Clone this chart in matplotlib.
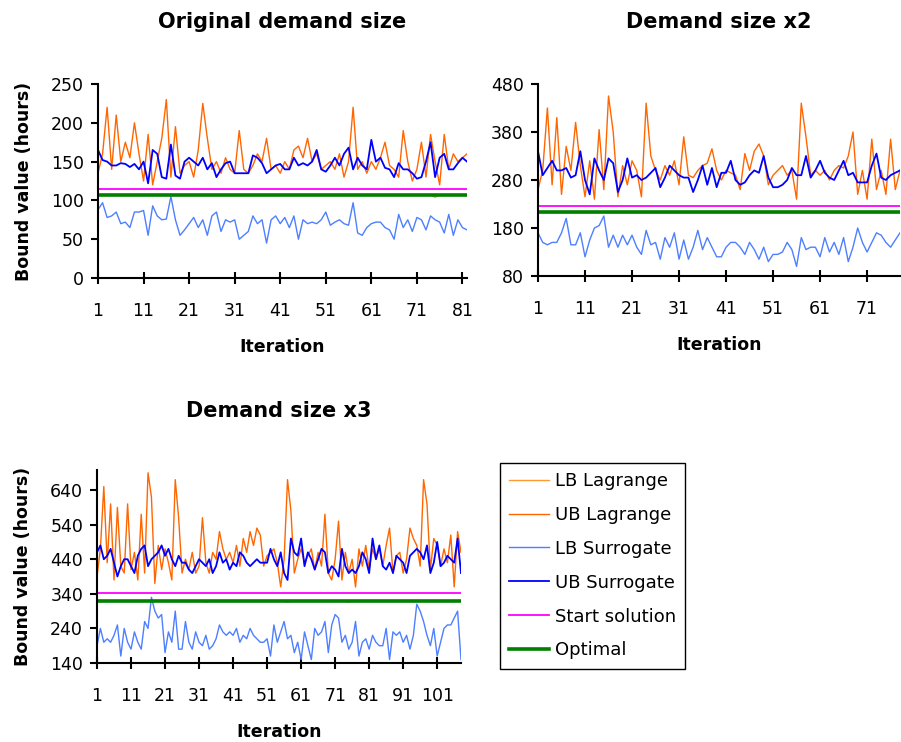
import numpy as np
import matplotlib
matplotlib.use("Agg")
import matplotlib.pyplot as plt

plt.rcParams.update({
    'font.family': 'DejaVu Sans',
    'font.size': 12.5,
    'axes.linewidth': 1.5,
})

# ---- data: original demand size ----
ub_lag1 = [135, 160, 220, 140, 210, 150, 175, 155, 200, 160,
           125, 185, 120, 150, 180, 230, 130, 195, 135, 145,
           150, 130, 165, 225, 180, 140, 150, 135, 155, 140,
           135, 190, 140, 135, 145, 160, 150, 180, 140, 145,
           135, 150, 140, 165, 170, 155, 180, 150, 160, 140,
           145, 150, 140, 160, 130, 150, 220, 140, 150, 135,
           150, 140, 155, 175, 145, 140, 130, 190, 150, 125,
           140, 175, 130, 185, 150, 120, 185, 140, 160, 150,
           155, 160]
ub_sur1 = [165, 152, 150, 145, 145, 148, 147, 143, 147, 140,
           150, 122, 165, 160, 130, 128, 172, 132, 128, 150,
           155, 150, 145, 155, 140, 148, 130, 140, 148, 150,
           135, 135, 135, 135, 158, 155, 148, 135, 140, 145,
           147, 140, 140, 155, 145, 148, 145, 150, 165, 140,
           137, 145, 155, 145, 160, 168, 140, 155, 145, 140,
           178, 150, 155, 142, 140, 130, 148, 140, 140, 135,
           128, 130, 150, 175, 130, 155, 160, 140, 140, 148,
           155, 150]
lb_sur1 = [88, 97, 78, 80, 85, 70, 72, 65, 85, 85,
           87, 55, 93, 80, 75, 76, 105, 75, 55, 62,
           70, 78, 65, 75, 55, 80, 85, 60, 75, 72,
           75, 50, 55, 60, 80, 70, 75, 45, 75, 80,
           70, 78, 65, 80, 50, 75, 70, 72, 70, 75,
           85, 68, 72, 75, 70, 68, 97, 58, 55, 65,
           70, 72, 72, 65, 62, 50, 82, 65, 75, 60,
           78, 75, 62, 80, 75, 72, 58, 82, 55, 75,
           65, 62]
start1, opt1 = 115, 107

# ---- data: demand size x2 ----
ub_lag2 = [260, 300, 430, 270, 410, 250, 350, 300, 400, 310,
           245, 320, 240, 385, 260, 455, 380, 245, 310, 270,
           320, 300, 245, 440, 330, 300, 280, 310, 290, 320,
           270, 370, 290, 285, 300, 310, 315, 345, 300, 280,
           300, 295, 290, 260, 335, 300, 340, 355, 330, 270,
           290, 300, 310, 290, 300, 240, 440, 370, 290, 300,
           290, 300, 280, 300, 310, 305, 330, 380, 250, 300,
           240, 365, 260, 300, 250, 365, 260, 300]
ub_sur2 = [340, 290, 305, 320, 300, 300, 305, 285, 290, 340,
           280, 250, 325, 300, 280, 325, 315, 255, 280, 325,
           285, 290, 280, 285, 295, 305, 265, 285, 310, 300,
           290, 285, 285, 255, 280, 310, 270, 305, 265, 295,
           295, 320, 280, 270, 275, 290, 300, 295, 330, 285,
           265, 265, 270, 280, 305, 290, 290, 330, 285, 300,
           320, 295, 285, 280, 300, 320, 290, 295, 275, 275,
           275, 310, 335, 285, 280, 290, 295, 300]
lb_sur2 = [170, 150, 145, 150, 150, 170, 200, 145, 145, 170,
           120, 155, 180, 185, 205, 140, 165, 140, 165, 145,
           165, 140, 125, 175, 145, 150, 115, 160, 140, 170,
           115, 155, 115, 140, 175, 135, 160, 140, 120, 120,
           140, 150, 150, 140, 125, 150, 135, 115, 140, 110,
           125, 125, 130, 150, 135, 100, 160, 135, 140, 140,
           120, 160, 130, 150, 125, 160, 110, 140, 180, 150,
           130, 150, 170, 165, 150, 140, 155, 170]
start2, opt2 = 226, 213

# ---- data: demand size x3 ----
ub_lag3 = [390, 470, 650, 430, 600, 380, 590, 420, 400, 600,
           410, 460, 380, 570, 400, 690, 620, 370, 480, 410,
           470, 430, 380, 670, 560, 400, 440, 410, 460, 400,
           420, 560, 430, 400, 460, 440, 520, 470, 440, 460,
           430, 480, 420, 500, 460, 520, 480, 530, 510, 420,
           450, 460, 470, 430, 360, 440, 670, 580, 400, 440,
           470, 430, 450, 470, 410, 460, 420, 570, 400, 380,
           440, 550, 380, 460, 400, 440, 360, 470, 420, 480,
           410, 470, 440, 470, 420, 480, 530, 400, 450, 460,
           400, 440, 530, 500, 480, 420, 670, 600, 410, 500,
           480, 420, 470, 430, 510, 360, 520, 460]
ub_sur3 = [460, 480, 440, 450, 470, 430, 390, 420, 440, 440,
           420, 400, 450, 470, 480, 420, 440, 450, 460, 480,
           450, 470, 440, 420, 450, 430, 430, 410, 400, 420,
           440, 430, 420, 440, 400, 420, 460, 430, 440, 410,
           430, 420, 460, 450, 430, 420, 430, 440, 430, 430,
           430, 470, 440, 420, 460, 400, 380, 500, 460, 450,
           500, 420, 460, 440, 410, 440, 470, 460, 400, 420,
           410, 390, 470, 420, 400, 410, 400, 420, 460, 440,
           400, 500, 440, 480, 420, 410, 430, 400, 450, 440,
           430, 400, 450, 460, 470, 460, 440, 480, 400, 430,
           490, 420, 430, 450, 440, 430, 500, 400]
lb_sur3 = [190, 240, 200, 210, 200, 220, 250, 160, 240, 200,
           180, 230, 200, 180, 260, 240, 330, 290, 270, 280,
           170, 230, 200, 290, 180, 180, 260, 200, 180, 230,
           200, 190, 220, 180, 190, 210, 250, 230, 220, 230,
           220, 240, 200, 220, 210, 240, 220, 210, 200, 200,
           210, 160, 250, 200, 230, 260, 210, 220, 170, 200,
           150, 230, 190, 150, 240, 220, 230, 260, 170, 250,
           280, 270, 200, 220, 180, 200, 260, 160, 200, 210,
           180, 220, 200, 190, 190, 240, 150, 230, 220, 230,
           200, 220, 180, 220, 310, 290, 260, 220, 190, 240,
           160, 200, 240, 250, 250, 270, 290, 150]
start3, opt3 = 341, 319

# LB Lagrange sits on the optimal value almost everywhere (hidden behind it)
lb_lag_dips1 = {75: 104}
lb_lag_dips3 = {33: 316, 57: 316, 75: 316}

labels = ['LB Lagrange', 'UB Lagrange', 'LB Surrogate', 'UB Surrogate',
          'Start solution', 'Optimal']
colors = ['#FF9933', '#FF6600', '#4D7FFF', '#0000FF', '#FF00FF', '#008000']
widths = [1.0, 1.0, 1.0, 1.3, 1.3, 2.6]

W, H = 901, 742
fig = plt.figure(figsize=(W / 100, H / 100), dpi=100)


def ax_at(l, t, r, b):
    return fig.add_axes([l / W, 1 - b / H, (r - l) / W, (b - t) / H])


def panel(ax, ub_lag, ub_sur, lb_sur, start, opt, dips, ylo, yhi, ystep):
    n = len(ub_lag)
    x = np.arange(1, n + 1)
    lb_lag = [opt] * n
    for k, v in dips.items():
        lb_lag[k - 1] = v
    series = [lb_lag, ub_lag, lb_sur, ub_sur, [start] * n, [opt] * n]
    handles = []
    for s, c, w, lab in zip(series, colors, widths, labels):
        h, = ax.plot(x, s, color=c, lw=w, label=lab)
        handles.append(h)
    ax.set_xlim(1, n)
    ax.set_ylim(ylo, yhi)
    ax.set_xticks(np.arange(1, n + 1, 10))
    ax.set_yticks(np.arange(ylo, yhi + 1, ystep))
    ax.spines['top'].set_visible(False)
    ax.spines['right'].set_visible(False)
    ax.tick_params(axis='x', direction='inout', length=9, width=1.5, pad=13)
    ax.tick_params(axis='y', direction='out', length=5, width=1.5, pad=5)
    ax.set_xlabel('Iteration', fontweight='bold', fontsize=12.5, labelpad=13)
    return handles


ax1 = ax_at(98, 84, 467, 278)
handles = panel(ax1, ub_lag1, ub_sur1, lb_sur1, start1, opt1, lb_lag_dips1, 0, 250, 50)
ax1.set_ylabel('Bound value (hours)', fontweight='bold', fontsize=12.5, labelpad=13)
ax1.set_title('Original demand size', fontweight='bold', fontsize=15, pad=40)

ax2 = ax_at(538, 84, 900, 276)
panel(ax2, ub_lag2, ub_sur2, lb_sur2, start2, opt2, {}, 80, 480, 100)
ax2.set_title('Demand size x2', fontweight='bold', fontsize=15, pad=40)

ax3 = ax_at(97, 470, 461, 663)
panel(ax3, ub_lag3, ub_sur3, lb_sur3, start3, opt3, lb_lag_dips3, 140, 698, 100)
ax3.set_ylabel('Bound value (hours)', fontweight='bold', fontsize=12.5, labelpad=13)
ax3.set_title('Demand size x3', fontweight='bold', fontsize=15, pad=38)

leg = fig.legend(handles=handles, loc='upper left',
                 bbox_to_anchor=(500 / W, 1 - 463 / H),
                 fontsize=13, frameon=True, fancybox=False,
                 edgecolor='black', framealpha=1.0, handlelength=2.2,
                 labelspacing=0.88, borderpad=0.5, handletextpad=0.35,
                 borderaxespad=0)
leg.get_frame().set_linewidth(1.0)

fig.savefig('out.png', dpi=100)
